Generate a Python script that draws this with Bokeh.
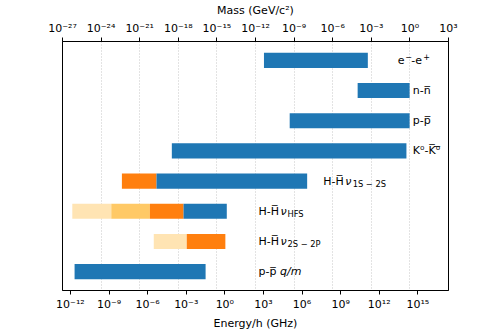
from bokeh.plotting import figure
from bokeh.models import (Range1d, LogScale, LogAxis, FixedTicker,
                          CustomJSTickFormatter, Grid, ColumnDataSource)
from bokeh.embed import file_html
from bokeh.resources import INLINE
from bokeh.core.properties import value

# ---------------- data ----------------
# row names, top to bottom
rows = ["e-e+", "n-nbar", "p-pbar", "K0-K0bar", "H 1S-2S", "H HFS", "H 2S-2P", "p-pbar q/m"]

# bar segments (energy/h in GHz); tier 0 = blue, 1 = orange, 2 = light, 3 = lightest
seg_row = [0, 1, 2, 3, 4, 4, 5, 5, 5, 5, 6, 6, 7]
seg_lo = [1.1e3, 2.1e10, 1.1e5, 7.6e-5, 1.0e-8, 4.9e-6, 1.4e-12, 1.5e-9, 1.5e-6, 6.2e-4, 3.0e-6, 1.1e-3, 2.1e-12]
seg_hi = [1.3e11, 2.3e14, 2.3e14, 1.3e14, 4.9e-6, 2.5e6, 1.5e-9, 1.5e-6, 6.2e-4, 1.42, 1.1e-3, 1.1, 3.2e-2]
seg_tier = [0, 0, 0, 0, 1, 0, 3, 2, 1, 0, 3, 1, 0]

# label pieces: row, text, kind (n = normal, i = italic, sup, sub)
piece_row = [0, 0, 0, 0, 1, 2, 3, 4, 4, 4, 5, 5, 5, 6, 6, 6, 7, 7]
piece_text = ["e", "−", "-e", "+", "n-n̅", "p-p̅", "K⁰-K̅⁰̅",
              "H-H̅", "ν", "1S − 2S", "H-H̅", "ν", "HFS", "H-H̅", "ν", "2S − 2P",
              "p-p̅", "q/m"]
piece_kind = ["n", "sup", "n", "sup", "n", "n", "n",
              "n", "i", "sub", "n", "i", "sub", "n", "i", "sub", "n", "i"]

energy_tick_exp = [-12, -9, -6, -3, 0, 3, 6, 9, 12, 15]
mass_tick_exp = [-27, -24, -21, -18, -15, -12, -9, -6, -3, 0, 3]
GEV_TO_GHZ_EXP = 14.3835   # log10 of (1 GeV / h) expressed on the energy axis
mass_range_exp = (-27, 3)

# ---------------- layout / style ----------------
label_x = [2.75e13, 4.1e14, 4.1e14, 4.1e14, 4.4e7, 4.1e2, 4.1e2, 4.1e2]   # label anchors
piece_dx = [0, 7.5, 13.5, 25.5, 0, 0, 0,
            0, 22, 29.5, 0, 22, 29, 0, 22, 29, 0, 21.5]
kind_style = {
    "n": dict(size="11px", style="normal", dy=0),
    "i": dict(size="11px", style="italic", dy=0),
    "sup": dict(size="8px", style="normal", dy=-4),
    "sub": dict(size="8.3px", style="normal", dy=3),
}
tier_colors = ["#1f77b4", "#ff7f0e", "#ffc966", "#ffe4b3"]
FONT = "DejaVu Sans"

x_lo = 10 ** (mass_range_exp[0] + GEV_TO_GHZ_EXP)
x_hi = 10 ** (mass_range_exp[1] + GEV_TO_GHZ_EXP)
n = len(rows)

p = figure(width=498, height=332, x_axis_type="log",
           x_range=Range1d(x_lo, x_hi),
           y_range=Range1d(n - 1 + 0.625, -0.625),
           output_backend="svg", toolbar_location=None,
           y_axis_location=None,
           min_border_left=62, min_border_right=50,
           min_border_top=40, min_border_bottom=42)
p.extra_x_ranges = {"mass": Range1d(10 ** mass_range_exp[0], 10 ** mass_range_exp[1])}
p.extra_x_scales = {"mass": LogScale()}

fmt_code = """
const sup = {"-": "\u207b", "0": "\u2070", "1": "\u00b9", "2": "\u00b2", "3": "\u00b3",
             "4": "\u2074", "5": "\u2075", "6": "\u2076", "7": "\u2077", "8": "\u2078", "9": "\u2079"};
const e = Math.round(Math.log10(tick));
return "10" + String(e).split("").map(c => sup[c]).join("");
"""


def style_axis(ax, label_standoff, title_standoff):
    ax.major_label_text_font = FONT
    ax.major_label_text_font_size = "11px"
    ax.major_label_text_color = "black"
    ax.axis_label_text_font = FONT
    ax.axis_label_text_font_size = "11px"
    ax.axis_label_text_font_style = "normal"
    ax.axis_label_text_color = "black"
    ax.axis_line_color = "black"
    ax.major_tick_line_color = "black"
    ax.major_tick_in = 0
    ax.major_tick_out = 4
    ax.minor_tick_line_color = None
    ax.major_label_standoff = label_standoff
    ax.axis_label_standoff = title_standoff


bottom = p.below[0]
bottom.ticker = FixedTicker(ticks=[10.0 ** e for e in energy_tick_exp], minor_ticks=[])
bottom.formatter = CustomJSTickFormatter(code=fmt_code)
bottom.axis_label = "Energy/h (GHz)"
style_axis(bottom, 3, 3)

mass_ticks = [10.0 ** e for e in mass_tick_exp]
top = LogAxis(x_range_name="mass", ticker=FixedTicker(ticks=mass_ticks, minor_ticks=[]),
              formatter=CustomJSTickFormatter(code=fmt_code), axis_label="Mass (GeV/c²)")
style_axis(top, 3, 2)
p.add_layout(top, "above")

p.xgrid.visible = False
p.ygrid.visible = False
p.add_layout(Grid(dimension=0, x_range_name="mass",
                  ticker=FixedTicker(ticks=mass_ticks, minor_ticks=[]),
                  grid_line_color="#b8b8b8", grid_line_dash="1 2", grid_line_width=0.8))

p.outline_line_color = "black"
p.outline_line_width = 1
p.background_fill_color = "white"
p.border_fill_color = "white"

bars = ColumnDataSource(dict(
    y=seg_row, left=seg_lo, right=seg_hi,
    color=[tier_colors[t] for t in seg_tier]))
p.hbar(y="y", left="left", right="right", height=0.5, fill_color="color",
       line_color=None, source=bars)

for kind, st in kind_style.items():
    idx = [k for k in range(len(piece_text)) if piece_kind[k] == kind]
    src = ColumnDataSource(dict(
        x=[label_x[piece_row[k]] for k in idx],
        y=[piece_row[k] for k in idx],
        t=[piece_text[k] for k in idx],
        dx=[piece_dx[k] for k in idx]))
    p.text(x="x", y="y", text="t", source=src, x_offset="dx", y_offset=st["dy"],
           text_font=value(FONT), text_font_size=st["size"],
           text_font_style=st["style"], text_baseline="middle",
           text_align="left", text_color="black")

open("out.html", "w").write(file_html(p, INLINE))
